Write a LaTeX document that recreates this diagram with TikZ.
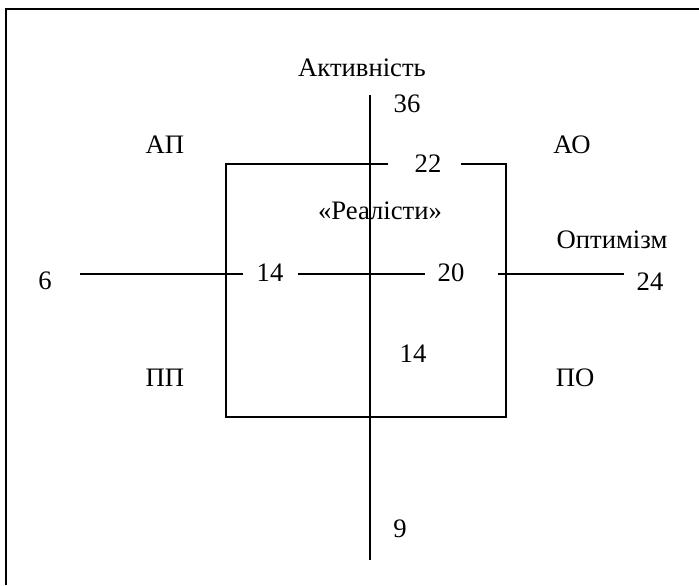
\documentclass[tikz,border=0pt]{standalone}
\usepackage{fontspec}
\setmainfont{Liberation Serif}
\begin{document}
\begin{tikzpicture}[x=0.75pt,y=-0.75pt,
  lbl/.style={inner sep=0pt,font=\fontsize{20pt}{24pt}\selectfont},
  ln/.style={line width=1.1pt},
  frame/.style={line width=1.6pt}]
\useasboundingbox (0,0) rectangle (699,585);
% frame (top and left edges visible)
\coordinate (f1) at (6,585);
\coordinate (f2) at (6,9);
\coordinate (f3) at (699,9);
\draw[frame] (f1) -- (f2) -- (f3);
% vertical axis
\coordinate (vt) at (370,95);
\coordinate (vb) at (370,560);
\draw[ln] (vt) -- (vb);
% horizontal axis
\coordinate (h1) at (80,274);
\coordinate (h2) at (243,274);
\coordinate (h3) at (298,274);
\coordinate (h4) at (425,274);
\coordinate (h5) at (498,274);
\coordinate (h6) at (624,274);
\draw[ln] (h1) -- (h2);
\draw[ln] (h3) -- (h4);
\draw[ln] (h5) -- (h6);
% box
\coordinate (b1) at (388,164);
\coordinate (b2) at (226,164);
\coordinate (b3) at (226,417);
\coordinate (b4) at (506,417);
\coordinate (b5) at (506,164);
\coordinate (b6) at (461,164);
\draw[ln] (b1) -- (b2) -- (b3) -- (b4) -- (b5) -- (b6);
% labels
\node[lbl] (act) at (362,68) {Активність};
\node[lbl] (n36) at (407,104) {36};
\node[lbl] (ap) at (165,145) {АП};
\node[lbl] (ao) at (572,145) {АО};
\node[lbl] (n22) at (428,164) {22};
\node[lbl] (real) at (380,211) {«Реалісти»};
\node[lbl] (opt) at (612,240) {Оптимізм};
\node[lbl] (n6) at (45,281) {6};
\node[lbl] (n14a) at (270,273) {14};
\node[lbl] (n20) at (451,273) {20};
\node[lbl] (n24) at (650,282) {24};
\node[lbl] (n14b) at (413,354) {14};
\node[lbl] (pp) at (165,378) {ПП};
\node[lbl] (po) at (575,378) {ПО};
\node[lbl] (n9) at (400,529) {9};
\end{tikzpicture}
\end{document}
